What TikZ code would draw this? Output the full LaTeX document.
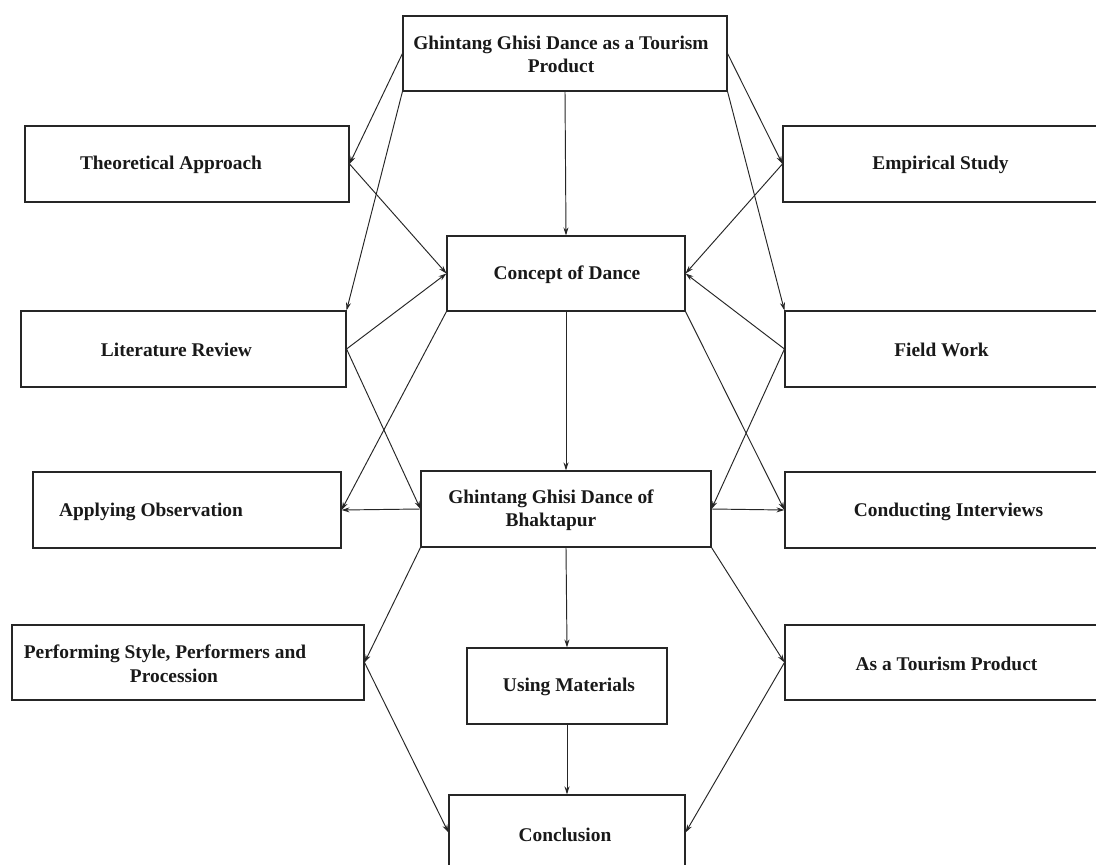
\documentclass[tikz,border=0pt]{standalone}
\usepackage{fontspec}
\setmainfont{Liberation Serif}
\usetikzlibrary{arrows.meta}
\tikzset{
  box/.style={draw=black!85, line width=1.1pt, inner sep=0pt, fill=none},
  lbl/.style={font=\fontsize{19.4}{23.5}\selectfont\bfseries, text=black!90, inner sep=0pt, align=center},
  arr/.style={draw=black!85, line width=0.95pt, -{Stealth[length=8pt,width=5pt]}}
}
\begin{document}
\begin{tikzpicture}[x=1pt,y=-1pt]
\useasboundingbox (0,0) rectangle (1096,865);
\clip (0,0) rectangle (1096,865);
\fill[white] (0,0) rectangle (1096,865);
% boxes
\node[box, minimum width=324pt, minimum height=75pt,
  label={[lbl,xshift=-4pt,yshift=-1pt]center:{Ghintang Ghisi Dance as a Tourism\\Product}}] (top) at (565,53.5) {};
\node[box, minimum width=324pt, minimum height=76pt,
  label={[lbl,xshift=-16pt,yshift=-1pt]center:Theoretical Approach}] (theo) at (187,164) {};
\node[box, minimum width=317pt, minimum height=76pt,
  label={[lbl,xshift=-1pt,yshift=-1pt]center:Empirical Study}] (emp) at (941.5,164) {};
\node[box, minimum width=238pt, minimum height=75pt,
  label={[lbl,xshift=1pt,yshift=-1pt]center:Concept of Dance}] (concept) at (566,273.5) {};
\node[box, minimum width=325pt, minimum height=76pt,
  label={[lbl,xshift=-7pt,yshift=-1pt]center:Literature Review}] (lit) at (183.5,349) {};
\node[box, minimum width=315pt, minimum height=76pt,
  label={[lbl,xshift=-1pt,yshift=-1pt]center:Field Work}] (fw) at (942.5,349) {};
\node[box, minimum width=308pt, minimum height=76pt,
  label={[lbl,xshift=-36pt,yshift=-2pt]center:Applying Observation}] (apply) at (187,510) {};
\node[box, minimum width=290pt, minimum height=76pt,
  label={[lbl,xshift=-15pt,yshift=-1pt]center:{Ghintang Ghisi Dance of\\Bhaktapur}}] (ggb) at (566,509) {};
\node[box, minimum width=315pt, minimum height=76pt,
  label={[lbl,xshift=6pt,yshift=-2pt]center:Conducting Interviews}] (cond) at (942.5,510) {};
\node[box, minimum width=352pt, minimum height=75pt,
  label={[lbl,xshift=-23pt,yshift=-1.5pt]center:{Performing Style, Performers and\\\hspace*{18pt}Procession}}] (perf) at (188,662.5) {};
\node[box, minimum width=200pt, minimum height=76pt,
  label={[lbl,xshift=2pt,yshift=-1pt]center:Using Materials}] (using) at (567,686) {};
\node[box, minimum width=315pt, minimum height=75pt,
  label={[lbl,xshift=4pt,yshift=-1pt]center:As a Tourism Product}] (tour) at (942.5,662.5) {};
\node[box, minimum width=236pt, minimum height=75pt,
  label={[lbl,xshift=-2pt,yshift=-2pt]center:Conclusion}] (concl) at (567,832.5) {};
% connectors
\draw[arr] (top.west) -- (theo.east);
\draw[arr] (top.south west) -- (lit.north east);
\draw[arr] (top.south) -- (concept.north);
\draw[arr] (top.east) -- (emp.west);
\draw[arr] (top.south east) -- (fw.north west);
\draw[arr] (theo.east) -- (concept.west);
\draw[arr] (lit.east) -- (concept.west);
\draw[arr] (emp.west) -- (concept.east);
\draw[arr] (fw.west) -- (concept.east);
\draw[arr] (concept.south) -- (ggb.north);
\draw[arr] (concept.south west) -- (apply.east);
\draw[arr] (concept.south east) -- (cond.west);
\draw[arr] (lit.east) -- (ggb.west);
\draw[arr] (fw.west) -- (ggb.east);
\draw[arr] (ggb.west) -- (apply.east);
\draw[arr] (ggb.east) -- (cond.west);
\draw[arr] (ggb.south west) -- (perf.east);
\draw[arr] (ggb.south) -- (using.north);
\draw[arr] (ggb.south east) -- (tour.west);
\draw[arr] (perf.east) -- (concl.west);
\draw[arr] (using.south) -- (concl.north);
\draw[arr] (tour.west) -- (concl.east);
\end{tikzpicture}
\end{document}
